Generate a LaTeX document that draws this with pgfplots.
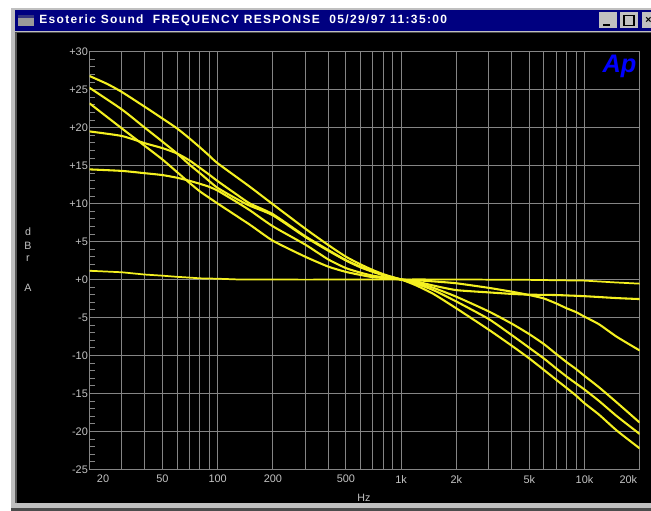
\documentclass[border=0pt]{standalone}
\usepackage{pgfplots}
\pgfplotsset{compat=1.18}
\usepackage{fontspec}
\setmainfont{Liberation Sans}
\newfontfamily\titlefont[LetterSpace=11.3]{Liberation Sans}
\definecolor{navy}{HTML}{000080}
\definecolor{wingray}{HTML}{C0C0C0}
\definecolor{gridc}{HTML}{858585}
\definecolor{labc}{HTML}{C4C4C4}
\definecolor{curve}{HTML}{F4F020}
\pgfplotsset{yc/.style={color=curve,line width=1.55pt,line join=round,mark=none,smooth,tension=0.35}}
\begin{document}
\begin{tikzpicture}[x=0.75pt,y=-0.75pt]
\useasboundingbox (0,0) rectangle (651,511);
\fill[white] (0,0) rectangle (651,511);
% window chrome
\fill[wingray] (11,8) rectangle (651,511);
\fill[gray!60!black] (15,10) rectangle (651,33);
\fill[navy] (15,10) rectangle (651,30.5);
\fill[wingray] (15,30.5) rectangle (651,32);
\fill[black] (17,33) rectangle (651,503);
\fill[gray!60!black] (11,508) rectangle (651,511);
\fill[gray!70!black] (15,33) rectangle (17,503);
% icon
\fill[gray!80] (18,15) rectangle (34,26);
\fill[navy!60!gray] (18,15) rectangle (34,17.5);
% title
\node[anchor=west,text=white,inner sep=0pt,font={\fontsize{9pt}{10pt}\selectfont\titlefont\bfseries}] at (39,20) {Esoteric Sound\ \ FREQUENCY RESPONSE\ \ 05/29/97 11:35:00};
% buttons
\foreach \a/\b in {599/617,620/638,642/655}{
  \fill[wingray] (\a,12) rectangle (\b,28);
}
\fill[black] (603,24) rectangle (610,26);
\draw[black,line width=0.9pt] (624,15.5) rectangle (634,25.5);
\node[anchor=west,inner sep=0pt,font={\fontsize{8pt}{9pt}\selectfont\bfseries}] at (645,20) {×};
% plot
\begin{axis}[
  at={(67.125pt,-38.775pt)},anchor=north west,
  scale only axis,width=412.65pt,height=313.2pt,
  xmode=log,xmin=20,xmax=20000,ymin=-25,ymax=30,
  log basis x=10,
  xtick={20,30,40,50,60,70,80,90,100,200,300,400,500,600,700,800,900,1000,2000,3000,4000,5000,6000,7000,8000,9000,10000,20000},
  xticklabels={,,,50,,,,,100,200,,,500,,,,,1k,2k,,,5k,,,,,10k,},
  ytick={-25,-20,-15,-10,-5,0,5,10,15,20,25,30},
  yticklabels={-25,-20,-15,-10,-5,+0,+5,+10,+15,+20,+25,+30},
  minor ytick={-24,-23,-22,-21,-19,-18,-17,-16,-14,-13,-12,-11,-9,-8,-7,-6,-4,-3,-2,-1,1,2,3,4,6,7,8,9,11,12,13,14,16,17,18,19,21,22,23,24,26,27,28,29},
  minor xtick={},
  xmajorgrids,ymajorgrids,
  grid style={gridc,line width=0.75pt},
  axis line style={gridc,line width=0.75pt},
  major tick length=0pt,
  minor tick length=3.9pt,
  tick align=inside,
  ytick pos=left,xtick pos=bottom,
  minor tick style={gridc,line width=0.6pt},
  ticklabel style={text=labc,font={\fontsize{8.2pt}{9pt}\selectfont}},
  yticklabel style={anchor=east,xshift=-1pt,inner sep=0pt},
  xticklabel style={anchor=north,yshift=-4.2pt,inner sep=0pt},
  clip mode=individual,
]
\addplot[yc] coordinates {(20,26.8)(25,25.75)(30,24.7)(40,22.75)(50,21.2)(60,19.9)(70,18.6)(80,17.4)(90,16.3)(100,15.3)(150,12.2)(200,9.9)(300,6.7)(400,4.55)(500,3.0)(600,2.0)(700,1.25)(800,0.7)(900,0.3)(1000,0)(1200,-0.75)(1500,-1.9)(2000,-3.8)(3000,-6.6)(4000,-8.7)(5000,-10.4)(6000,-11.9)(7000,-13.2)(8000,-14.3)(9000,-15.3)(10000,-16.3)(12000,-17.8)(15000,-19.9)(20000,-22.25)};
\addplot[yc] coordinates {(20,25.25)(30,22.4)(40,20.0)(50,18.15)(60,16.6)(70,15.15)(80,14.0)(90,12.95)(100,12.05)(125,10.7)(150,9.7)(200,8.45)(300,5.6)(400,3.8)(500,2.5)(600,1.6)(700,1.0)(800,0.55)(900,0.25)(1000,0)(1200,-0.55)(1500,-1.4)(2000,-2.9)(3000,-5.2)(4000,-7.3)(5000,-9)(6000,-10.4)(7000,-11.7)(8000,-12.8)(9000,-13.7)(10000,-14.5)(12000,-16)(15000,-18)(20000,-20.35)};
\addplot[yc] coordinates {(20,23.2)(30,19.9)(40,17.6)(50,15.8)(60,14.15)(70,12.75)(80,11.6)(90,10.75)(100,10.0)(150,7.2)(200,5.1)(300,3.0)(400,1.7)(500,1.0)(600,0.6)(700,0.3)(800,0.2)(900,0.1)(1000,0)(1200,-0.4)(1500,-1.1)(2000,-2.27)(3000,-4.2)(4000,-5.8)(5000,-7.2)(6000,-8.5)(7000,-9.8)(8000,-10.9)(9000,-11.8)(10000,-12.7)(12000,-14.2)(15000,-16.2)(20000,-18.85)};
\addplot[yc] coordinates {(20,19.5)(30,18.9)(40,17.95)(50,17.3)(60,16.6)(70,15.7)(80,14.7)(90,13.8)(100,12.95)(125,11.3)(150,10.0)(200,8.6)(300,5.7)(400,3.9)(500,2.55)(600,1.7)(700,1.1)(800,0.6)(900,0.3)(1000,0)(1200,-0.1)(1500,-0.25)(2000,-0.5)(3000,-1.1)(4000,-1.6)(5000,-2.05)(6000,-2.5)(7000,-3.15)(8000,-3.8)(9000,-4.3)(10000,-4.9)(12000,-5.9)(15000,-7.55)(20000,-9.35)};
\addplot[yc] coordinates {(20,14.5)(30,14.3)(40,14.0)(50,13.75)(60,13.4)(70,13.0)(80,12.6)(90,12.2)(100,11.7)(125,10.3)(150,9.1)(200,7.0)(300,4.6)(400,2.65)(500,1.5)(600,0.9)(700,0.5)(800,0.3)(900,0.15)(1000,0)(1200,-0.25)(1500,-0.8)(2000,-1.4)(3000,-1.7)(4000,-1.9)(5000,-2.0)(7000,-2.05)(10000,-2.2)(15000,-2.45)(20000,-2.58)};
\addplot[color=curve,line width=1.3pt,line join=round,mark=none] coordinates {(20,1.15)(30,0.95)(40,0.65)(50,0.5)(60,0.35)(70,0.25)(80,0.15)(100,0.1)(130,0)(300,-0.02)(800,0)(1000,0)(1200,0.02)(2000,0)(5000,-0.05)(10000,-0.15)(15000,-0.4)(20000,-0.55)};
\node[anchor=north,inner sep=0pt,text=labc,font={\fontsize{8.2pt}{9pt}\selectfont}] at (axis cs:23.7,-25) [yshift=-4.2pt] {20};
\node[anchor=north,inner sep=0pt,text=labc,font={\fontsize{8.2pt}{9pt}\selectfont}] at (axis cs:17350,-25) [yshift=-4.2pt] {20k};
\end{axis}
% outer labels
\foreach \t/\yy in {d/232,B/246,r/259,A/288}{
  \node[text=labc,inner sep=0pt,font={\fontsize{8pt}{9pt}\selectfont}] at (28,\yy) {\t};
}
\node[text=labc,inner sep=0pt,font={\fontsize{8pt}{9pt}\selectfont}] at (364,498) {Hz};
\node[text=blue,inner sep=0pt,anchor=base,font={\fontsize{19pt}{21pt}\selectfont\bfseries\itshape}] at (619.5,72) {Ap};
\end{tikzpicture}
\end{document}
